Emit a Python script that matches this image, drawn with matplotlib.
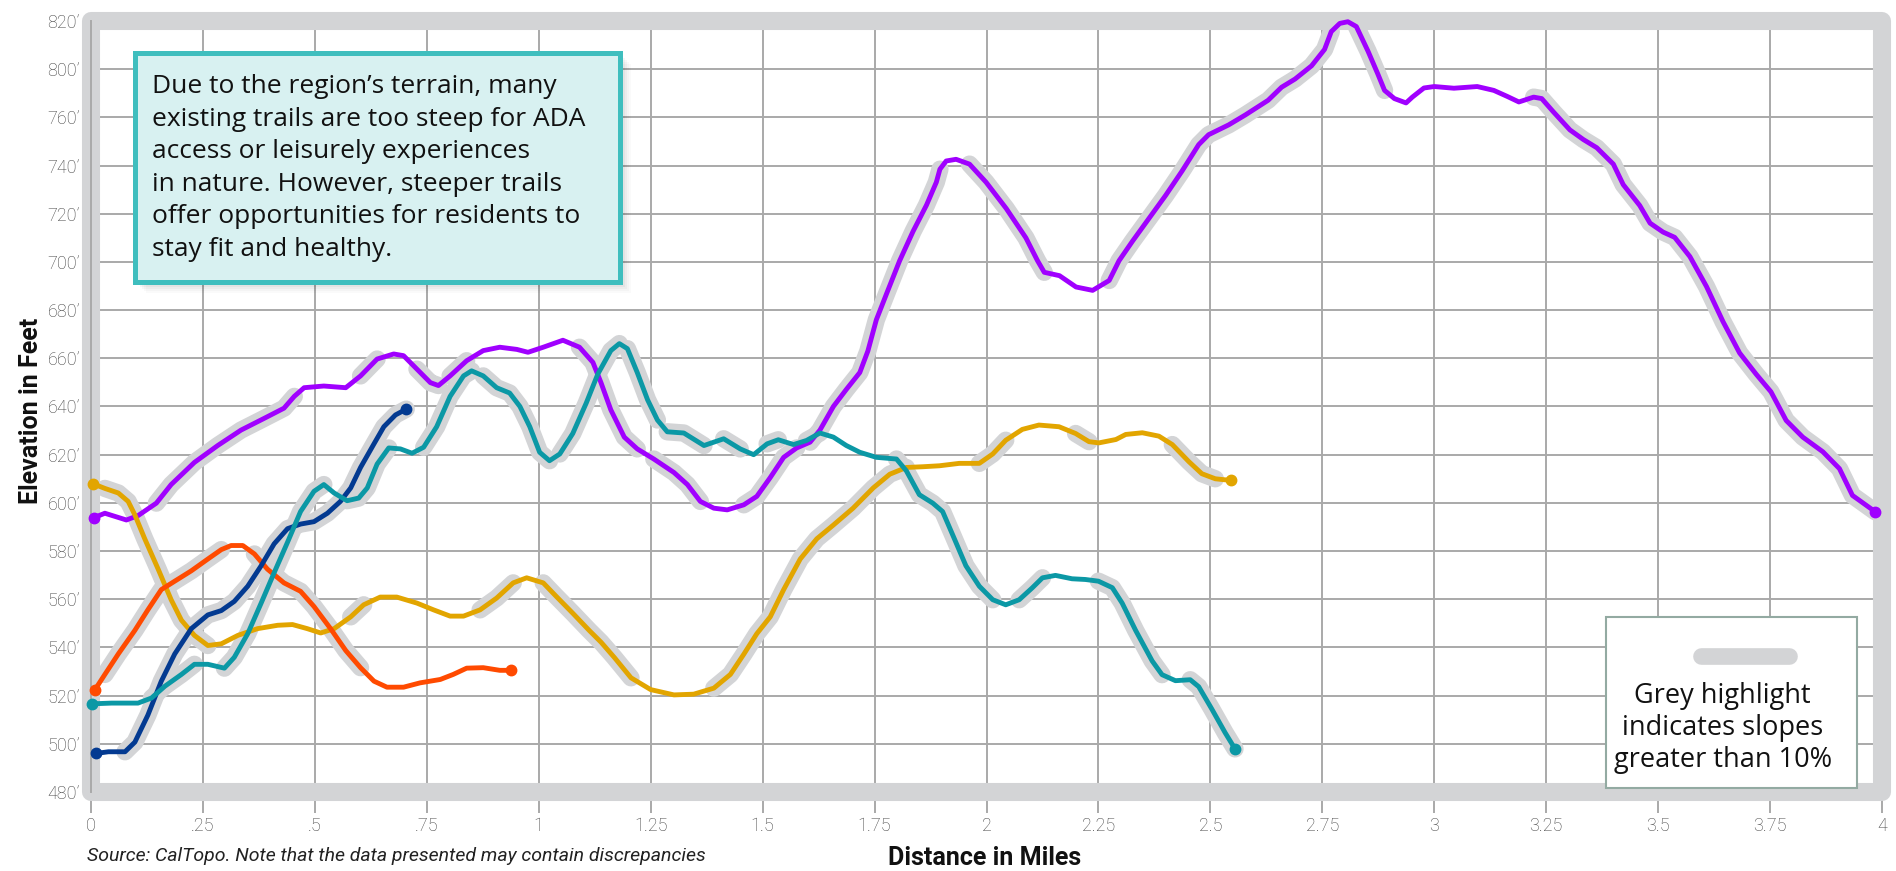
import numpy as np
import matplotlib
matplotlib.use("Agg")
import matplotlib.pyplot as plt
from matplotlib.patches import Rectangle

# ---- data ----
purple_x = [0.007, 0.031, 0.079, 0.105, 0.146, 0.179, 0.231, 0.283, 0.335, 0.387, 0.431, 0.454, 0.476, 0.520,
            0.569, 0.602, 0.639, 0.676, 0.698, 0.728, 0.758, 0.776, 0.802, 0.839, 0.876, 0.913, 0.951, 0.976,
            1.010, 1.054, 1.091, 1.121, 1.139, 1.161, 1.191, 1.220, 1.257, 1.302, 1.332, 1.361, 1.391, 1.421,
            1.458, 1.487, 1.517, 1.547, 1.576, 1.606, 1.628, 1.658, 1.687, 1.717, 1.735, 1.754, 1.777, 1.806,
            1.836, 1.866, 1.888, 1.896, 1.910, 1.932, 1.962, 1.999, 2.044, 2.088, 2.114, 2.129, 2.163, 2.200,
            2.237, 2.274, 2.296, 2.326, 2.363, 2.400, 2.437, 2.474, 2.496, 2.541, 2.578, 2.629, 2.659, 2.689,
            2.726, 2.755, 2.770, 2.789, 2.807, 2.826, 2.852, 2.874, 2.889, 2.911, 2.937, 2.951, 2.977, 3.000,
            3.044, 3.096, 3.133, 3.163, 3.189, 3.222, 3.240, 3.266, 3.303, 3.333, 3.363, 3.400, 3.422, 3.459,
            3.482, 3.511, 3.537, 3.571, 3.608, 3.645, 3.682, 3.719, 3.752, 3.786, 3.823, 3.868, 3.905, 3.934,
            3.985]
purple_y = [593.9, 595.7, 592.9, 594.7, 599.9, 607.6, 616.8, 623.8, 630.2, 635.1, 639.3, 644.2, 647.8, 648.5,
            647.8, 652.7, 659.7, 661.8, 661.1, 655.5, 649.9, 648.7, 652.7, 659.0, 663.2, 664.6, 663.7, 662.5,
            664.6, 667.5, 664.6, 658.3, 649.9, 638.6, 627.3, 622.4, 618.2, 612.6, 607.6, 600.6, 597.8, 597.1,
            599.2, 602.7, 610.5, 618.9, 622.8, 625.2, 630.2, 640.0, 647.1, 654.1, 663.0, 676.0, 686.9, 700.5,
            712.7, 723.6, 733.1, 738.5, 741.9, 742.6, 740.6, 733.1, 722.2, 710.0, 700.5, 695.7, 694.3, 689.6,
            688.2, 692.3, 700.5, 708.6, 718.1, 727.6, 737.8, 748.7, 752.8, 756.9, 761.0, 767.1, 772.5, 775.9,
            781.4, 788.2, 795.6, 799.0, 799.7, 797.7, 787.5, 778.0, 771.2, 767.8, 766.0, 768.4, 772.2, 772.8,
            772.1, 772.8, 771.2, 768.7, 766.4, 768.4, 767.8, 762.3, 754.8, 750.8, 747.4, 740.6, 732.1, 723.4,
            716.1, 712.4, 710.2, 702.2, 689.8, 675.2, 662.2, 653.4, 646.1, 634.2, 627.3, 621.2, 614.2, 603.1,
            596.3]

teal_x = [0.003, 0.046, 0.105, 0.135, 0.165, 0.202, 0.231, 0.261, 0.298, 0.320, 0.350, 0.380, 0.409, 0.439,
          0.468, 0.498, 0.520, 0.543, 0.572, 0.598, 0.617, 0.639, 0.665, 0.691, 0.717, 0.743, 0.772, 0.802,
          0.832, 0.850, 0.876, 0.906, 0.935, 0.958, 0.980, 1.002, 1.024, 1.047, 1.076, 1.106, 1.132, 1.161,
          1.180, 1.198, 1.220, 1.243, 1.265, 1.287, 1.324, 1.369, 1.413, 1.450, 1.480, 1.510, 1.535, 1.569,
          1.598, 1.628, 1.658, 1.687, 1.717, 1.754, 1.799, 1.821, 1.850, 1.880, 1.902, 1.925, 1.954, 1.984,
          2.014, 2.043, 2.073, 2.102, 2.125, 2.154, 2.191, 2.221, 2.250, 2.281, 2.303, 2.333, 2.370, 2.392,
          2.422, 2.455, 2.474, 2.503, 2.533, 2.555]
teal_y = [516.6, 516.9, 516.9, 519.0, 523.9, 528.8, 533.0, 533.0, 531.4, 535.9, 545.7, 558.4, 571.0, 583.7,
          596.4, 604.8, 607.6, 604.1, 600.9, 602.0, 606.2, 616.1, 622.8, 622.4, 620.6, 623.1, 631.6, 644.2,
          652.7, 654.8, 652.7, 647.8, 645.6, 640.0, 631.6, 621.0, 617.5, 620.3, 628.8, 641.4, 653.5, 663.2,
          666.1, 664.0, 654.1, 642.8, 634.4, 629.5, 629.0, 623.8, 626.6, 622.4, 620.0, 624.5, 626.2, 624.2,
          625.9, 629.0, 627.3, 623.8, 621.0, 618.9, 618.2, 613.3, 603.4, 599.9, 596.4, 586.5, 573.9, 565.4,
          559.8, 557.7, 559.8, 564.7, 568.9, 569.9, 568.5, 568.2, 567.5, 564.8, 558.4, 547.1, 534.4, 528.7,
          526.2, 526.6, 523.7, 514.5, 504.6, 497.9]

gold_x = [0.005, 0.031, 0.061, 0.083, 0.098, 0.120, 0.150, 0.179, 0.202, 0.231, 0.261, 0.291, 0.328, 0.372,
          0.417, 0.450, 0.483, 0.513, 0.543, 0.580, 0.609, 0.646, 0.683, 0.728, 0.765, 0.802, 0.832, 0.869,
          0.906, 0.943, 0.973, 1.010, 1.039, 1.076, 1.113, 1.139, 1.169, 1.206, 1.250, 1.302, 1.346, 1.391,
          1.428, 1.458, 1.487, 1.517, 1.547, 1.584, 1.621, 1.658, 1.702, 1.747, 1.784, 1.821, 1.858, 1.895,
          1.939, 1.984, 2.014, 2.043, 2.080, 2.117, 2.162, 2.199, 2.229, 2.251, 2.289, 2.311, 2.348, 2.385,
          2.415, 2.452, 2.481, 2.511, 2.547]
gold_y = [607.9, 606.0, 604.1, 600.6, 595.0, 585.1, 572.5, 559.8, 551.3, 545.0, 540.8, 541.5, 545.0, 547.8,
          549.2, 549.5, 547.8, 546.0, 547.8, 552.7, 557.7, 560.9, 560.9, 558.4, 555.6, 553.0, 553.0, 555.6,
          560.5, 566.8, 568.9, 566.8, 561.2, 554.2, 547.0, 542.2, 535.8, 527.4, 522.5, 520.3, 520.6, 523.1,
          528.8, 537.2, 545.7, 552.7, 564.0, 576.7, 585.1, 590.8, 597.8, 606.2, 611.9, 614.7, 615.0, 615.4,
          616.4, 616.4, 620.3, 626.0, 630.5, 632.3, 631.6, 628.8, 625.4, 624.9, 626.3, 628.4, 629.1, 627.7,
          624.2, 617.1, 612.1, 610.0, 609.3]

orange_x = [0.009, 0.031, 0.061, 0.098, 0.127, 0.157, 0.187, 0.224, 0.261, 0.291, 0.313, 0.339, 0.365, 0.394,
            0.431, 0.468, 0.498, 0.535, 0.569, 0.602, 0.632, 0.661, 0.698, 0.735, 0.780, 0.809, 0.839, 0.876,
            0.913, 0.938]
orange_y = [522.5, 528.8, 537.3, 547.1, 555.6, 564.0, 567.5, 571.8, 576.7, 580.6, 582.3, 582.3, 578.8, 572.5,
            566.8, 563.3, 557.0, 547.8, 538.7, 531.6, 526.0, 523.5, 523.5, 525.3, 526.7, 528.8, 531.4, 531.6,
            530.5, 530.5]

navy_x = [0.011, 0.039, 0.076, 0.098, 0.127, 0.157, 0.187, 0.224, 0.261, 0.291, 0.320, 0.350, 0.380, 0.409,
          0.439, 0.468, 0.498, 0.528, 0.557, 0.580, 0.602, 0.632, 0.654, 0.680, 0.704]
navy_y = [496.0, 496.7, 496.7, 500.7, 511.9, 526.0, 537.3, 547.8, 553.5, 555.3, 559.1, 565.4, 573.9, 583.0,
          589.3, 591.2, 592.2, 595.7, 600.6, 606.2, 614.7, 624.5, 631.6, 636.5, 638.9]

# stretches with slopes > 10% (grey highlight), in miles
purple_steep = [(0.13, 0.47), (0.57, 0.645), (0.70, 0.78), (0.80, 0.86), (1.09, 1.22), (1.25, 1.38),
                (1.45, 1.58), (1.60, 1.90), (1.96, 2.135), (2.26, 2.78), (2.82, 2.90), (3.22, 3.99)]
teal_steep = [(0.13, 0.24), (0.29, 0.53), (0.57, 0.67), (0.74, 0.86), (0.87, 1.03), (1.03, 1.19),
              (1.19, 1.27), (1.28, 1.37), (1.40, 1.47), (1.50, 1.56), (1.58, 1.65), (1.79, 2.02),
              (2.06, 2.13), (2.25, 2.40), (2.45, 2.56)]
gold_steep = [(0.03, 0.28), (0.57, 0.63), (0.86, 0.95), (1.00, 1.21), (1.38, 1.83), (1.98, 2.06),
              (2.19, 2.24), (2.40, 2.52)]
orange_steep = [(0.02, 0.30), (0.35, 0.62)]
navy_steep = [(0.07, 0.71)]

x_ticks = [0, 0.25, 0.5, 0.75, 1, 1.25, 1.5, 1.75, 2, 2.25, 2.5, 2.75, 3, 3.25, 3.5, 3.75, 4]
x_labels = ["0", ".25", ".5", ".75", "1", "1.25", "1.5", "1.75", "2", "2.25", "2.5", "2.75", "3",
            "3.25", "3.5", "3.75", "4"]
y_ticks = [480, 500, 520, 540, 560, 580, 600, 620, 640, 660, 680, 700, 720, 740, 760, 780, 800]
y_labels = ["480’", "500’", "520’", "540’", "560’", "580’", "600’", "620’", "640’", "660’", "680’",
            "700’", "720’", "740’", "760’", "800’", "820’"]

series = [
    (purple_x, purple_y, purple_steep, "#a000ff"),
    (gold_x, gold_y, gold_steep, "#e2a500"),
    (orange_x, orange_y, orange_steep, "#ff4a00"),
    (navy_x, navy_y, navy_steep, "#033a91"),
    (teal_x, teal_y, teal_steep, "#0b98a5"),
]

HL = "#d3d4d6"
GRID = "#a9a9a9"
TXT = ["Roboto", "DejaVu Sans"]
BOX = ["Open Sans", "DejaVu Sans"]

W, H = 1896, 871
fig = plt.figure(figsize=(W / 100, H / 100), dpi=100)
ax = fig.add_axes([91 / W, 1 - 792 / H, 1791 / W, 771 / H])

ax.set_xlim(0, 4)
ax.set_ylim(480, 800)
ax.set_xticks(x_ticks)
ax.set_xticklabels(x_labels)
ax.set_yticks(y_ticks)
ax.set_yticklabels(y_labels)
ax.set_axisbelow(True)
ax.grid(True, color=GRID, lw=1.4)
for s in ax.spines.values():
    s.set_visible(False)
ax.tick_params(axis="x", length=15, width=1.4, color=GRID, pad=3)
ax.tick_params(axis="y", length=0, pad=8)
for lab in ax.get_xticklabels() + ax.get_yticklabels():
    lab.set_family(TXT)
    lab.set_fontweight("light")
    lab.set_fontsize(13)
    lab.set_color("#404040")

# thick grey frame
frame = Rectangle((0, 0), 1, 1, transform=ax.transAxes, fill=False, edgecolor=HL, lw=13,
                  joinstyle="round", clip_on=False, zorder=1)
ax.add_patch(frame)
ax.axvline(0, color=GRID, lw=1.4, zorder=1.2, clip_on=False)

# grey highlights first, then the trail lines
for xs, ys, steep, c in series:
    xs = np.array(xs)
    ys = np.array(ys)
    for a, b in steep:
        m = (xs >= a) & (xs <= b)
        ax.plot(xs[m], ys[m], color=HL, lw=12.5, solid_capstyle="round", solid_joinstyle="round",
                zorder=2, clip_on=False)

for xs, ys, steep, c in series:
    ax.plot(xs, ys, color=c, lw=3.5, solid_capstyle="round", solid_joinstyle="round", zorder=3,
            clip_on=False)
    ax.plot([xs[0], xs[-1]], [ys[0], ys[-1]], "o", color=c, ms=7.5, zorder=4, clip_on=False)

# axis titles and source
fig.text(31 / W, 1 - 411 / H, "Elevation in Feet", rotation=90, ha="center", va="center",
         family=TXT, fontweight="bold", fontsize=18, color="#111111")
fig.text(985 / W, 1 - 858 / H, "Distance in Miles", ha="center", va="center",
         family=TXT, fontweight="bold", fontsize=18, color="#111111")
fig.text(87 / W, 1 - 856 / H, "Source: CalTopo. Note that the data presented may contain discrepancies",
         ha="left", va="center", family=TXT, style="italic", fontsize=14, color="#222222")

# call-out box with soft shadow
bx0, by0, bx1, by1 = 135, 53, 620, 282
for i, al in enumerate([0.035, 0.035, 0.03, 0.025, 0.02]):
    off = 3 + i * 2
    fig.patches.append(Rectangle(((bx0 + off) / W, 1 - (by1 + off) / H), (bx1 - bx0) / W, (by1 - by0) / H,
                                 transform=fig.transFigure, facecolor="black", edgecolor="none", alpha=al,
                                 zorder=5))
fig.patches.append(Rectangle((bx0 / W, 1 - by1 / H), (bx1 - bx0) / W, (by1 - by0) / H,
                             transform=fig.transFigure, facecolor="#d8f1f1", edgecolor="#3fbebe", lw=3.6,
                             zorder=6))
fig.text(152 / W, 1 - 74 / H,
         "Due to the region’s terrain, many\nexisting trails are too steep for ADA\naccess or leisurely experiences\n"
         "in nature. However, steeper trails\noffer opportunities for residents to\nstay fit and healthy.",
         ha="left", va="top", family=BOX, fontsize=19, color="#111111", linespacing=1.4, zorder=7)

# legend box in the lower right corner
lx0, lx1 = 0.846, 0.986
ax.add_patch(Rectangle((lx0, 0.005), lx1 - lx0, 0.222, transform=ax.transAxes, facecolor="white",
                       edgecolor="#93aaa2", lw=1.5, zorder=8, clip_on=False))
ax.plot([0.9235 - 0.0245, 0.9235 + 0.0245], [0.176, 0.176], transform=ax.transAxes, color=HL, lw=12,
        solid_capstyle="round", zorder=9, clip_on=False)
ax.text(0.911, 0.083, "Grey highlight\nindicates slopes\ngreater than 10%", transform=ax.transAxes,
        ha="center", va="center", family=BOX, fontsize=19.5, color="#111111", linespacing=1.2, zorder=9)

fig.savefig("out.png", dpi=100)
